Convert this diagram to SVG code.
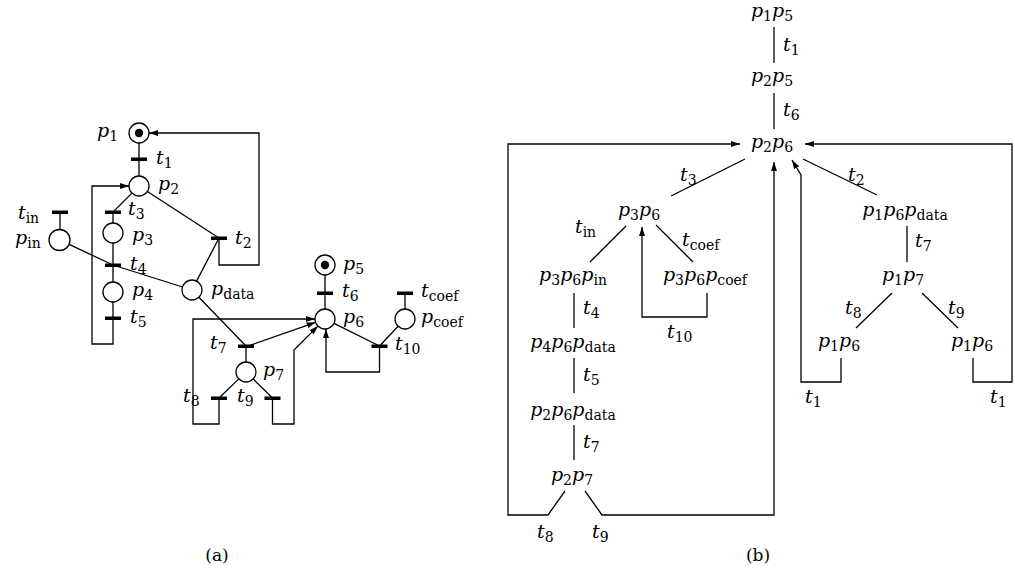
<svg xmlns="http://www.w3.org/2000/svg" width="1015" height="577" viewBox="0 0 1015 577">
<style>
  .ln { fill: none; stroke: #000; stroke-width: 1.3; }
  .pl { fill: #fff; stroke: #000; stroke-width: 1.3; }
  .tk { fill: #000; }
  .tr { fill: #000; }
  text { font-family: "DejaVu Serif", "Liberation Serif", serif; font-style: italic; font-size: 19px; fill: #000; }
  .s { font-style: normal; font-size: 14px; baseline-shift: -4px; }
  .c { text-anchor: middle; }
  .cap { font-style: normal; font-size: 17px; text-anchor: middle; }
</style>
<defs>
  <marker id="ah" markerWidth="9" markerHeight="6" refX="9" refY="3" orient="auto" markerUnits="userSpaceOnUse">
    <path d="M0,0 L9,3 L0,6 z" fill="#000"/>
  </marker>
</defs>
<rect x="0" y="0" width="1015" height="577" fill="#fff"/>

<!-- ===== (a) connectors ===== -->
<g id="connectors-a">
  <path class="ln" d="M139,143 L139,176"/>
  <path class="ln" d="M131.9,193.1 L113,212 L113,223"/>
  <path class="ln" d="M113,243 L113,282"/>
  <path class="ln" d="M113,302 L113,318"/>
  <path class="ln" d="M113,318 L113,344 L92,344 L92,186 L129,186" marker-end="url(#ah)"/>
  <path class="ln" d="M60,212 L60,229.5"/>
  <path class="ln" d="M68.6,244.2 L113,265 L182.5,287"/>
  <path class="ln" d="M147.4,191.5 L219,238"/>
  <path class="ln" d="M196.6,281.1 L219,238"/>
  <path class="ln" d="M219,238 L219,265 L259,265 L259,133 L149,133" marker-end="url(#ah)"/>
  <path class="ln" d="M198.9,297.2 L246,346 L246,362"/>
  <path class="ln" d="M248,346 L315.6,322.3" marker-end="url(#ah)"/>
  <path class="ln" d="M238.8,378.9 L219,398"/>
  <path class="ln" d="M253.1,379 L272.5,398"/>
  <path class="ln" d="M219,398 L219,424 L193,424 L193,319 L315,319" marker-end="url(#ah)"/>
  <path class="ln" d="M272.5,398 L272.5,424 L294,424 L294,350 L317.9,326.1" marker-end="url(#ah)"/>
  <path class="ln" d="M325,275 L325,309"/>
  <path class="ln" d="M334,323.4 L379.5,346"/>
  <path class="ln" d="M405,293 L405,309"/>
  <path class="ln" d="M398.1,326.3 L379.5,346"/>
  <path class="ln" d="M379.5,346 L379.5,372 L326,372 L326,329" marker-end="url(#ah)"/>
</g>

<!-- ===== (a) places ===== -->
<g id="p1"><circle class="pl" cx="139" cy="133" r="10"/><circle class="tk" cx="139" cy="133" r="4.2"/><text x="97" y="137">p<tspan class="s">1</tspan></text></g>
<g id="p2"><circle class="pl" cx="139" cy="186" r="10"/><text x="158" y="190">p<tspan class="s">2</tspan></text></g>
<g id="p3"><circle class="pl" cx="113" cy="233" r="10"/><text x="132" y="241">p<tspan class="s">3</tspan></text></g>
<g id="p4"><circle class="pl" cx="113" cy="292" r="10"/><text x="132" y="296">p<tspan class="s">4</tspan></text></g>
<g id="pin"><circle class="pl" cx="59.5" cy="240" r="10.5"/><text x="15" y="244">p<tspan class="s">in</tspan></text></g>
<g id="pdata"><circle class="pl" cx="192" cy="290" r="10"/><text x="211" y="295">p<tspan class="s">data</tspan></text></g>
<g id="p5"><circle class="pl" cx="325" cy="265" r="10"/><circle class="tk" cx="325" cy="265" r="4.2"/><text x="343" y="270">p<tspan class="s">5</tspan></text></g>
<g id="p6"><circle class="pl" cx="325" cy="319" r="10"/><text x="343" y="323">p<tspan class="s">6</tspan></text></g>
<g id="pcoef"><circle class="pl" cx="405" cy="319" r="10"/><text x="421" y="323">p<tspan class="s">coef</tspan></text></g>
<g id="p7"><circle class="pl" cx="246" cy="372" r="10"/><text x="263" y="376">p<tspan class="s">7</tspan></text></g>

<!-- ===== (a) transitions ===== -->
<g id="t1"><rect class="tr" x="131" y="157.5" width="16" height="3.5"/><text x="156" y="164">t<tspan class="s">1</tspan></text></g>
<g id="t3"><rect class="tr" x="105" y="210.5" width="16" height="3.5"/><text x="128" y="215">t<tspan class="s">3</tspan></text></g>
<g id="tin"><rect class="tr" x="52" y="210.5" width="16" height="3.5"/><text x="18" y="219">t<tspan class="s">in</tspan></text></g>
<g id="t2"><rect class="tr" x="211" y="236.5" width="16" height="3.5"/><text x="235" y="244">t<tspan class="s">2</tspan></text></g>
<g id="t4"><rect class="tr" x="105" y="263.5" width="16" height="3.5"/><text x="130" y="270">t<tspan class="s">4</tspan></text></g>
<g id="t5"><rect class="tr" x="105" y="316.5" width="16" height="3.5"/><text x="130" y="323">t<tspan class="s">5</tspan></text></g>
<g id="t6"><rect class="tr" x="317" y="291.5" width="16" height="3.5"/><text x="342" y="297">t<tspan class="s">6</tspan></text></g>
<g id="tcoef"><rect class="tr" x="397" y="291.5" width="16" height="3.5"/><text x="421" y="297">t<tspan class="s">coef</tspan></text></g>
<g id="t7"><rect class="tr" x="238" y="344.5" width="16" height="3.5"/><text x="210" y="349">t<tspan class="s">7</tspan></text></g>
<g id="t10"><rect class="tr" x="371.5" y="344.5" width="16" height="3.5"/><text x="395" y="350">t<tspan class="s">10</tspan></text></g>
<g id="t8"><rect class="tr" x="211" y="396.5" width="16" height="3.5"/><text x="183" y="402">t<tspan class="s">8</tspan></text></g>
<g id="t9"><rect class="tr" x="264.5" y="396.5" width="16" height="3.5"/><text x="237" y="402">t<tspan class="s">9</tspan></text></g>

<text class="cap" x="217" y="561">(a)</text>

<!-- ===== (b) connectors ===== -->
<g id="connectors-b">
  <path class="ln" d="M774,27 L774,63"/>
  <path class="ln" d="M774,93 L774,129"/>
  <path class="ln" d="M745,159 L671,196"/>
  <path class="ln" d="M803,159 L877,195"/>
  <path class="ln" d="M626,226 L590,262"/>
  <path class="ln" d="M656,225 L693,262"/>
  <path class="ln" d="M707,293 L707,317 L642,317 L642,227" marker-end="url(#ah)"/>
  <path class="ln" d="M574,293 L574,328"/>
  <path class="ln" d="M574,358 L574,393"/>
  <path class="ln" d="M574,425 L574,460"/>
  <path class="ln" d="M565,491 L548,515 L508,515 L508,144 L740,144" marker-end="url(#ah)"/>
  <path class="ln" d="M585,491 L602,515 L774,515 L774,162" marker-end="url(#ah)"/>
  <path class="ln" d="M907,226 L907,262"/>
  <path class="ln" d="M892,293 L856,328"/>
  <path class="ln" d="M922,293 L958,328"/>
  <path class="ln" d="M841,358 L841,382 L801,382 L801,175 L792,160" marker-end="url(#ah)"/>
  <path class="ln" d="M973,358 L973,382 L1012,382 L1012,144 L805,144" marker-end="url(#ah)"/>
</g>

<!-- ===== (b) edge labels ===== -->
<g id="edge-labels-b">
  <text x="783" y="51">t<tspan class="s">1</tspan></text>
  <text x="783" y="116">t<tspan class="s">6</tspan></text>
  <text x="680" y="181">t<tspan class="s">3</tspan></text>
  <text x="848" y="181">t<tspan class="s">2</tspan></text>
  <text x="575" y="233">t<tspan class="s">in</tspan></text>
  <text x="682" y="246">t<tspan class="s">coef</tspan></text>
  <text x="667" y="338">t<tspan class="s">10</tspan></text>
  <text x="583" y="314">t<tspan class="s">4</tspan></text>
  <text x="583" y="381">t<tspan class="s">5</tspan></text>
  <text x="583" y="448">t<tspan class="s">7</tspan></text>
  <text x="537" y="538">t<tspan class="s">8</tspan></text>
  <text x="592" y="538">t<tspan class="s">9</tspan></text>
  <text x="915" y="247">t<tspan class="s">7</tspan></text>
  <text x="845" y="314">t<tspan class="s">8</tspan></text>
  <text x="948" y="314">t<tspan class="s">9</tspan></text>
  <text x="805" y="403">t<tspan class="s">1</tspan></text>
  <text x="990" y="403">t<tspan class="s">1</tspan></text>
</g>

<!-- ===== (b) nodes ===== -->
<g id="n-p1p5"><text class="c" x="772" y="17">p<tspan class="s">1</tspan>p<tspan class="s">5</tspan></text></g>
<g id="n-p2p5"><text class="c" x="772" y="82">p<tspan class="s">2</tspan>p<tspan class="s">5</tspan></text></g>
<g id="n-p2p6"><text class="c" x="772" y="148">p<tspan class="s">2</tspan>p<tspan class="s">6</tspan></text></g>
<g id="n-p3p6"><text class="c" x="639" y="216">p<tspan class="s">3</tspan>p<tspan class="s">6</tspan></text></g>
<g id="n-p3p6pin"><text class="c" x="573" y="281">p<tspan class="s">3</tspan>p<tspan class="s">6</tspan>p<tspan class="s">in</tspan></text></g>
<g id="n-p3p6pcoef"><text class="c" x="705" y="281">p<tspan class="s">3</tspan>p<tspan class="s">6</tspan>p<tspan class="s">coef</tspan></text></g>
<g id="n-p4p6pdata"><text class="c" x="573" y="348">p<tspan class="s">4</tspan>p<tspan class="s">6</tspan>p<tspan class="s">data</tspan></text></g>
<g id="n-p2p6pdata"><text class="c" x="573" y="416">p<tspan class="s">2</tspan>p<tspan class="s">6</tspan>p<tspan class="s">data</tspan></text></g>
<g id="n-p2p7"><text class="c" x="572" y="481">p<tspan class="s">2</tspan>p<tspan class="s">7</tspan></text></g>
<g id="n-p1p6pdata"><text class="c" x="905" y="216">p<tspan class="s">1</tspan>p<tspan class="s">6</tspan>p<tspan class="s">data</tspan></text></g>
<g id="n-p1p7"><text class="c" x="903" y="281">p<tspan class="s">1</tspan>p<tspan class="s">7</tspan></text></g>
<g id="n-p1p6a"><text class="c" x="839" y="347">p<tspan class="s">1</tspan>p<tspan class="s">6</tspan></text></g>
<g id="n-p1p6b"><text class="c" x="972" y="347">p<tspan class="s">1</tspan>p<tspan class="s">6</tspan></text></g>

<text class="cap" x="758" y="561">(b)</text>
</svg>
